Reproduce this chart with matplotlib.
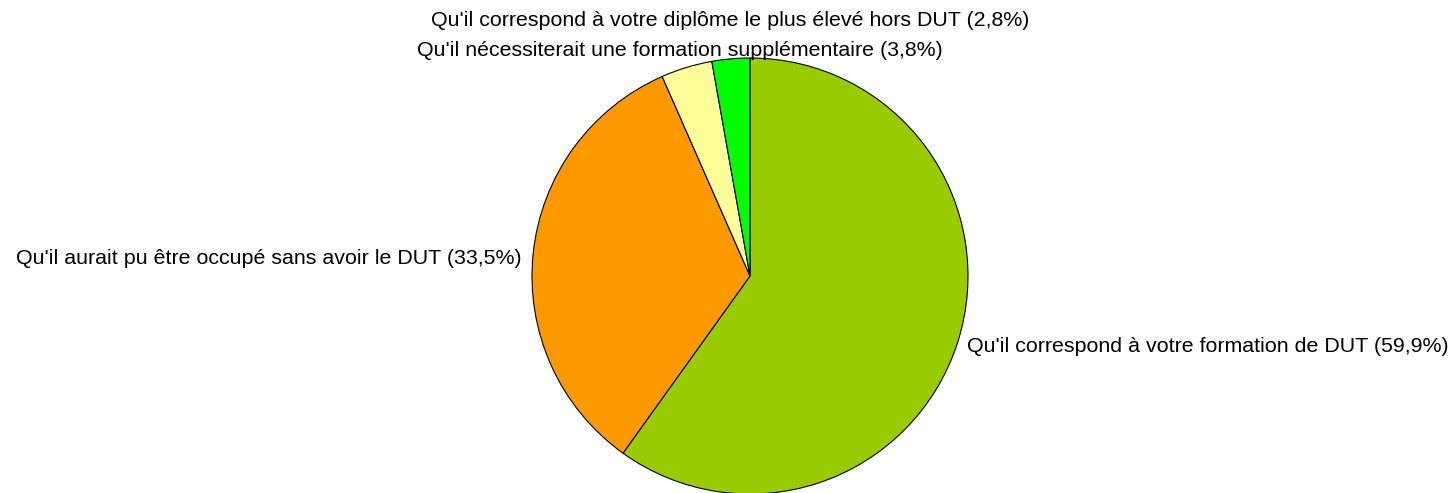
import matplotlib.pyplot as plt

labels = [
    "Qu'il correspond à votre formation de DUT",
    "Qu'il aurait pu être occupé sans avoir le DUT",
    "Qu'il nécessiterait une formation supplémentaire",
    "Qu'il correspond à votre diplôme le plus élevé hors DUT",
]
values = [59.9, 33.5, 3.8, 2.8]
colors = ["#99CC00", "#FF9900", "#FFFF99", "#00FF00"]

plt.rcParams['font.family'] = ['Liberation Sans', 'DejaVu Sans']

fig = plt.figure(figsize=(14.55, 4.93), dpi=100)
ax = fig.add_axes([0, 0, 1, 1])
ax.set_xlim(0, 1455)
ax.set_ylim(0, 493)
ax.set_aspect('equal')
ax.axis('off')

ax.pie(values, colors=colors, startangle=90, counterclock=False,
       center=(750, 217), radius=218,
       wedgeprops=dict(edgecolor='black', linewidth=0.8))
ax.set_xlim(0, 1455)
ax.set_ylim(0, 493)

def fmt(v):
    return f"{v:.1f}".replace('.', ',')

# label anchor positions (pixels, y from bottom)
pos = [(967, 146, 'left'), (522, 235, 'right'), (680, 443, 'center'), (730, 473, 'center')]
for lab, v, (x, y, ha) in zip(labels, values, pos):
    ax.text(x, y, f"{lab} ({fmt(v)}%)", ha=ha, va='center', fontsize=15.4)

fig.savefig("out.png", dpi=100)
